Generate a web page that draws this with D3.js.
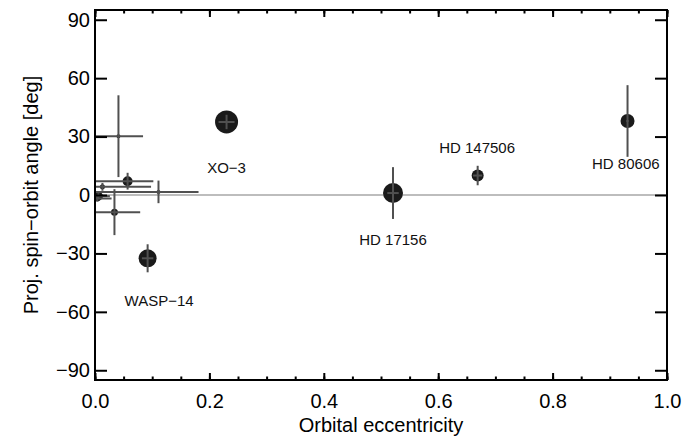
<!DOCTYPE html>
<html>
<head>
<meta charset="utf-8">
<script src="https://cdn.jsdelivr.net/npm/d3@7"></script>
<style>
  body { margin: 0; background: #fff; }
  text { font-family: "Liberation Sans", Arial, sans-serif; }
</style>
</head>
<body>
<div id="chart"></div>
<script>
var svgWidth = 699;
var svgHeight = 441;

var margin = { top: 10, right: 32, bottom: 61, left: 95 };
var width = svgWidth - margin.left - margin.right;
var height = svgHeight - margin.top - margin.bottom;

// data
var ecc      = [0.230, 0.092, 0.521, 0.669, 0.931, 0.041, 0.057, 0.013, 0.111, 0.006, 0.034, 0.004];
var lambda   = [37.5, -32.5, 1.0, 10.0, 38.0, 30.2, 7.1, 4.2, 1.6, -0.6, -8.8, -1.8];
var eccErrLo = [0.014, 0.010, 0.010, 0.008, 0.002, 0.041, 0.057, 0.013, 0.111, 0.006, 0.034, 0.004];
var eccErrHi = [0.014, 0.010, 0.010, 0.008, 0.002, 0.043, 0.045, 0.085, 0.070, 0.020, 0.045, 0.025];
var lamErr   = [3.7, 7.2, 13.3, 5.0, 18.4, 21.0, 4.3, 2.0, 5.8, 1.5, 11.8, 1.5];
var planetSize = [11.5, 9, 10, 6, 7, 2, 5, 2.5, 2, 4.5, 3.5, 3];

var labelNames = ["XO\u22123", "WASP\u221214", "HD 17156", "HD 147506", "HD 80606"];
var labelEcc   = [0.230, 0.112, 0.521, 0.668, 0.928];
var labelLam   = [11.5, -57.2, -25.9, 21.8, 13.1];

var xMajor = [0, 0.2, 0.4, 0.6, 0.8, 1.0];
var xMinor = d3.range(0, 1.0001, 0.05);
var yTicks = [-90, -60, -30, 0, 30, 60, 90];

var points = ecc.map(function(e, i) {
  return { e: e, lam: lambda[i], eLo: eccErrLo[i], eHi: eccErrHi[i], lErr: lamErr[i], size: planetSize[i] };
});

var svg = d3.select("#chart")
  .append("svg")
  .attr("width", svgWidth)
  .attr("height", svgHeight);

var chartGroup = svg.append("g")
  .attr("transform", `translate(${margin.left}, ${margin.top})`);

var xScale = d3.scaleLinear().domain([0, 1]).range([0, width]);
var yScale = d3.scaleLinear().domain([-95, 95]).range([height, 0]);
var rScale = d3.scaleLinear().domain([0, 12]).range([0, 12]);

chartGroup.append("clipPath").attr("id", "plotclip")
  .append("rect").attr("width", width).attr("height", height);

// zero line
chartGroup.append("line")
  .attr("x1", 0).attr("x2", width)
  .attr("y1", yScale(0)).attr("y2", yScale(0))
  .attr("stroke", "#bdbdbd")
  .attr("stroke-width", 2);

var plot = chartGroup.append("g").attr("clip-path", "url(#plotclip)");

// dots
plot.selectAll("circle")
  .data(points)
  .enter()
  .append("circle")
  .attr("cx", d => xScale(d.e))
  .attr("cy", d => yScale(d.lam))
  .attr("r", d => rScale(d.size))
  .attr("fill", "#1a1a1a");

// error bars
plot.selectAll("line.xerr")
  .data(points)
  .enter()
  .append("line")
  .attr("class", "xerr")
  .attr("x1", d => xScale(d.e - d.eLo))
  .attr("x2", d => xScale(d.e + d.eHi))
  .attr("y1", d => yScale(d.lam))
  .attr("y2", d => yScale(d.lam))
  .attr("stroke", "#505050")
  .attr("stroke-width", 2);

plot.selectAll("line.yerr")
  .data(points)
  .enter()
  .append("line")
  .attr("class", "yerr")
  .attr("x1", d => xScale(d.e))
  .attr("x2", d => xScale(d.e))
  .attr("y1", d => yScale(d.lam - d.lErr))
  .attr("y2", d => yScale(d.lam + d.lErr))
  .attr("stroke", "#505050")
  .attr("stroke-width", 2);

// labels
chartGroup.selectAll("text.lbl")
  .data(labelNames)
  .enter()
  .append("text")
  .attr("class", "lbl")
  .attr("x", (d, i) => xScale(labelEcc[i]))
  .attr("y", (d, i) => yScale(labelLam[i]))
  .attr("text-anchor", "middle")
  .attr("font-size", "15px")
  .attr("fill", "#111")
  .text(d => d);

// axes
function styleAxis(g) {
  g.select(".domain").remove();
  g.selectAll(".tick line").attr("stroke", "#000").attr("stroke-width", 2);
  g.selectAll(".tick text").attr("font-size", "20px").attr("fill", "#000")
    .attr("font-family", "'Liberation Sans', Arial, sans-serif");
}

var fmtX = d3.format(".1f");

chartGroup.append("g")
  .attr("transform", `translate(0, ${height})`)
  .call(d3.axisBottom(xScale).tickValues(xMinor).tickSize(-3.5).tickFormat(""))
  .call(styleAxis);

chartGroup.append("g")
  .attr("transform", `translate(0, ${height})`)
  .call(d3.axisBottom(xScale).tickValues(xMajor).tickSize(-7).tickPadding(14).tickFormat(fmtX))
  .call(styleAxis);

chartGroup.append("g")
  .call(d3.axisTop(xScale).tickValues(xMinor).tickSize(-3.5).tickFormat(""))
  .call(styleAxis);

chartGroup.append("g")
  .call(d3.axisTop(xScale).tickValues(xMajor).tickSize(-7).tickFormat(""))
  .call(styleAxis);

chartGroup.append("g")
  .call(d3.axisLeft(yScale).tickValues(yTicks).tickSize(-12).tickPadding(5)
    .tickFormat(d => d < 0 ? "\u2212" + Math.abs(d) : d))
  .call(styleAxis);

chartGroup.append("g")
  .attr("transform", `translate(${width}, 0)`)
  .call(d3.axisRight(yScale).tickValues(yTicks).tickSize(-12).tickFormat(""))
  .call(styleAxis);

// frame
chartGroup.append("rect")
  .attr("width", width)
  .attr("height", height)
  .attr("fill", "none")
  .attr("stroke", "#000")
  .attr("stroke-width", 2);

// axis titles
chartGroup.append("text")
  .attr("x", width / 2)
  .attr("y", height + 52)
  .attr("text-anchor", "middle")
  .attr("font-size", "20px")
  .text("Orbital eccentricity");

chartGroup.append("text")
  .attr("transform", "rotate(-90)")
  .attr("x", 0 - (yScale(0)))
  .attr("y", 0 - margin.left + 38)
  .attr("text-anchor", "middle")
  .attr("font-size", "20px")
  .text("Proj. spin\u2212orbit angle [deg]");
</script>
</body>
</html>
